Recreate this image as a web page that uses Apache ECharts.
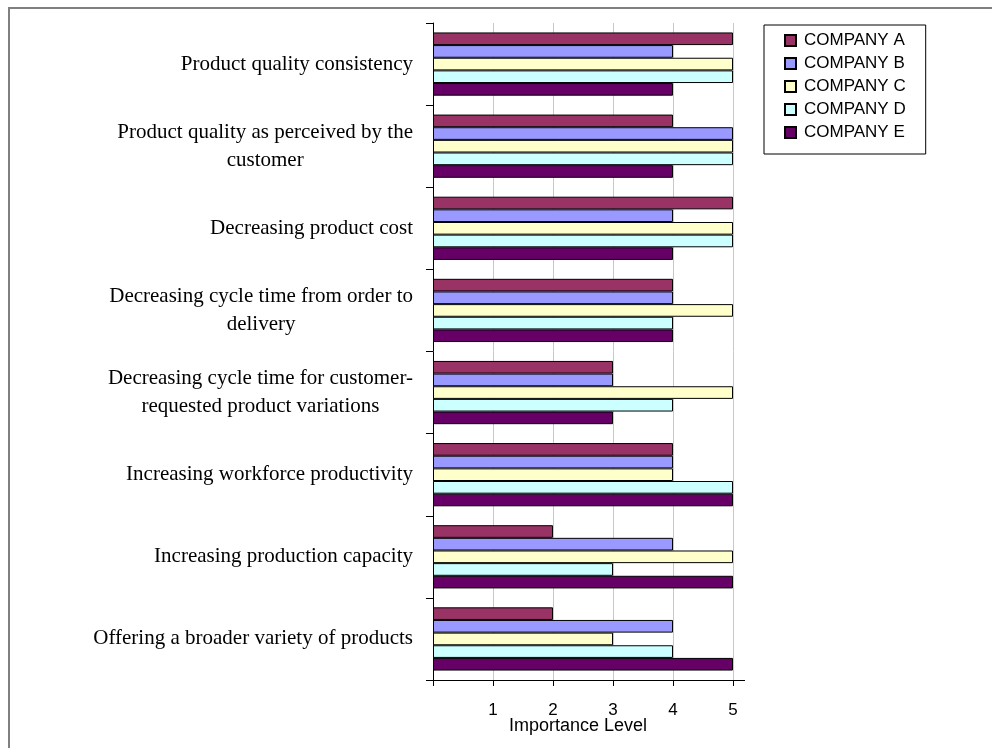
<!DOCTYPE html>
<html>
<head>
<meta charset="utf-8">
<script src="https://cdn.jsdelivr.net/npm/echarts@6/dist/echarts.min.js"></script>
<style>
  html, body { margin: 0; padding: 0; background: #ffffff; }
  #chart { width: 992px; height: 748px; }
</style>
</head>
<body>
<div id="chart"></div>
<script>
// Improvement goals, listed top to bottom ("\n" marks the wrapped lines)
const categories = [
  'Product quality consistency',
  'Product quality as perceived by the\ncustomer',
  'Decreasing product cost',
  'Decreasing cycle time from order to\ndelivery',
  'Decreasing cycle time for customer-\nrequested product variations',
  'Increasing workforce productivity',
  'Increasing production capacity',
  'Offering a broader variety of products'
];

const companyNames = ['COMPANY A', 'COMPANY B', 'COMPANY C', 'COMPANY D', 'COMPANY E'];

// Importance level (1-5) per goal
const companyA = [5, 4, 5, 4, 3, 4, 2, 2];
const companyB = [4, 5, 4, 4, 3, 4, 4, 4];
const companyC = [5, 5, 5, 5, 5, 4, 5, 3];
const companyD = [5, 5, 5, 4, 4, 5, 3, 4];
const companyE = [4, 4, 4, 4, 3, 5, 5, 5];

const xTickLabels = ['', '1', '2', '3', '4', '5'];
const axisTitle = 'Importance Level';

const seriesValues = [companyA, companyB, companyC, companyD, companyE];
const palette = ['#993366', '#9999FF', '#FFFFCC', '#CCFFFF', '#660066'];

const chart = echarts.init(document.getElementById('chart'), null, { renderer: 'canvas' });

const gridLeft = 433, gridTop = 23, gridRight = 992 - 733, gridBottom = 748 - 680;

const option = {
  backgroundColor: '#ffffff',
  animation: false,
  grid: { left: gridLeft, top: gridTop, right: gridRight, bottom: gridBottom, containLabel: false },
  xAxis: {
    type: 'value',
    min: 0,
    max: 5,
    interval: 1,
    axisLine: { show: true, lineStyle: { color: '#000000', width: 1 } },
    axisTick: { show: true, length: 6, lineStyle: { color: '#000000' } },
    splitLine: { show: true, lineStyle: { color: '#c8c8c8', width: 1 } },
    axisLabel: {
      margin: 22,
      fontFamily: 'Liberation Sans',
      fontSize: 17,
      color: '#000000',
      formatter: (v) => xTickLabels[Math.round(v)] || ''
    },
    name: axisTitle,
    nameLocation: 'middle',
    nameGap: 37,
    nameMoveOverlap: false,
    nameTextStyle: {
      fontFamily: 'Liberation Sans',
      fontSize: 18,
      color: '#000000',
      padding: [0, 10, 0, 0]
    }
  },
  yAxis: {
    type: 'category',
    data: categories,
    inverse: true,
    axisLine: { show: true, lineStyle: { color: '#000000', width: 1 } },
    axisTick: { show: true, length: 7, lineStyle: { color: '#000000' } },
    splitLine: { show: false },
    axisLabel: {
      margin: 20,
      color: '#000000',
      fontFamily: 'Liberation Serif',
      fontSize: 21,
      lineHeight: 28,
      formatter: (v) => v.split('\n').map((l) => '{c|' + l + '}').join('\n'),
      rich: {
        c: {
          align: 'center',
          fontFamily: 'Liberation Serif',
          fontSize: 21,
          lineHeight: 28,
          color: '#000000'
        }
      }
    }
  },
  legend: {
    orient: 'vertical',
    left: 764,
    top: 25,
    padding: [7, 20, 13, 20],
    itemGap: 6,
    itemWidth: 11,
    itemHeight: 11,
    icon: 'rect',
    borderColor: '#000000',
    borderWidth: 1,
    backgroundColor: '#ffffff',
    data: companyNames,
    textStyle: {
      fontFamily: 'Liberation Sans',
      fontSize: 17,
      lineHeight: 17,
      color: '#000000',
      padding: [0, 0, 0, 3]
    }
  },
  series: companyNames.map((name, i) => ({
    name: name,
    type: 'bar',
    data: seriesValues[i],
    barGap: '0%',
    barCategoryGap: '23%',
    itemStyle: { color: palette[i], borderColor: '#000000', borderWidth: 1 }
  })),
  graphic: [
    // outer chart frame
    {
      type: 'rect',
      shape: { x: 9, y: 8, width: 1000, height: 800 },
      style: { fill: 'none', stroke: '#808080', lineWidth: 2 },
      silent: true,
      z: 0
    },
    // value axis line continues a little past the last tick
    {
      type: 'line',
      shape: { x1: 733, y1: 680.5, x2: 745, y2: 680.5 },
      style: { stroke: '#000000', lineWidth: 1 },
      silent: true
    }
  ]
};

chart.setOption(option);
</script>
</body>
</html>
